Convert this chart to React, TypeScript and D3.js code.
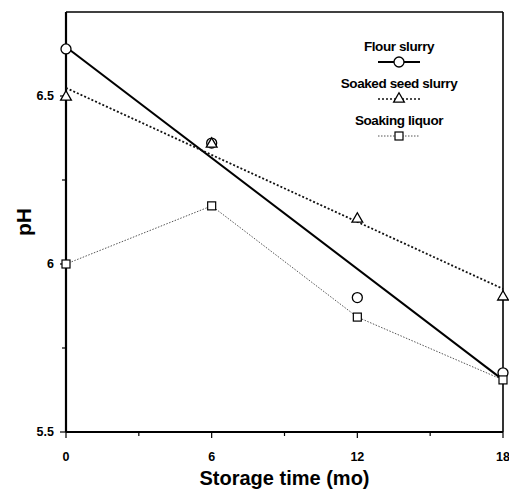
import React, { useEffect, useRef } from 'react';
import * as d3 from 'd3';

// storage time (months)
const months = [0, 6, 12, 18];
// observed pH values
const flourSlurry = [6.64, 6.36, 5.9, 5.676];
const soakedSeed = [6.5, 6.36, 6.137, 5.905];
const soakingLiquor = [6.0, 6.173, 5.842, 5.655];
// fitted lines (start at 0 mo, end at 18 mo)
const flourFit = [6.646, 5.655];
const soakedFit = [6.524, 5.926];

const xTicks = [0, 6, 12, 18];
const xMinor = [3, 9, 15];
const yTicks = [5.5, 6, 6.5];
const yMinor = [5.75, 6.25];

const legendItems = ['Flour slurry', 'Soaked seed slurry', 'Soaking liquor'];

const App = () => {
    const svgRef = useRef(null);

    useEffect(() => {
        const svg = d3.select(svgRef.current);
        svg.selectAll('*').remove();
        const width = 509;
        const height = 490;
        const margin = { top: 12, right: 6, bottom: 58, left: 66 };
        const font = 'Arial, "Liberation Sans", sans-serif';

        const x = d3.scaleLinear().domain([0, 18]).range([margin.left, width - margin.right]);
        const y = d3.scaleLinear().domain([5.5, 6.75]).range([height - margin.bottom, margin.top]);

        // frame top / right
        svg.append('line')
            .attr('x1', x(0)).attr('x2', x(18))
            .attr('y1', y(6.75)).attr('y2', y(6.75))
            .attr('stroke', '#000').attr('stroke-width', 1.6);
        svg.append('line')
            .attr('x1', x(18)).attr('x2', x(18))
            .attr('y1', y(6.75)).attr('y2', y(5.5))
            .attr('stroke', '#000').attr('stroke-width', 1.6);

        // x axis
        const gx = svg.append('g').attr('transform', `translate(0,${y(5.5)})`);
        gx.append('line').attr('x1', x(0)).attr('x2', x(18)).attr('stroke', '#000').attr('stroke-width', 2.2);
        gx.selectAll('.maj').data(xTicks).enter().append('line')
            .attr('x1', (d) => x(d)).attr('x2', (d) => x(d))
            .attr('y1', 0).attr('y2', 6).attr('stroke', '#000').attr('stroke-width', 1.2);
        gx.selectAll('.min').data(xMinor).enter().append('line')
            .attr('x1', (d) => x(d)).attr('x2', (d) => x(d))
            .attr('y1', 0).attr('y2', 4).attr('stroke', '#000').attr('stroke-width', 1.2);
        gx.selectAll('text').data(xTicks).enter().append('text')
            .attr('x', (d) => x(d)).attr('y', 29)
            .attr('text-anchor', 'middle')
            .style('font-family', font).style('font-weight', 'bold').style('font-size', '12.5px')
            .text((d) => d);

        // y axis
        const gy = svg.append('g').attr('transform', `translate(${x(0)},0)`);
        gy.append('line').attr('y1', y(5.5)).attr('y2', y(6.75)).attr('stroke', '#000').attr('stroke-width', 2.2);
        gy.selectAll('.maj').data(yTicks).enter().append('line')
            .attr('y1', (d) => y(d)).attr('y2', (d) => y(d))
            .attr('x1', 0).attr('x2', -6).attr('stroke', '#000').attr('stroke-width', 1.2);
        gy.selectAll('.min').data(yMinor).enter().append('line')
            .attr('y1', (d) => y(d)).attr('y2', (d) => y(d))
            .attr('x1', 0).attr('x2', -4).attr('stroke', '#000').attr('stroke-width', 1.2);
        gy.selectAll('text').data(yTicks).enter().append('text')
            .attr('x', -12).attr('y', (d) => y(d)).attr('dy', '0.35em')
            .attr('text-anchor', 'end')
            .style('font-family', font).style('font-weight', 'bold').style('font-size', '12.5px')
            .text((d) => d);

        // axis titles
        svg.append('text')
            .attr('x', (x(0) + x(18)) / 2).attr('y', 485)
            .attr('text-anchor', 'middle')
            .style('font-family', font).style('font-weight', 'bold').style('font-size', '20px')
            .text('Storage time (mo)');
        svg.append('text')
            .attr('transform', `translate(31,${(y(5.5) + y(6.75)) / 2}) rotate(-90)`)
            .attr('text-anchor', 'middle')
            .style('font-family', font).style('font-weight', 'bold').style('font-size', '21px')
            .text('pH');

        // fitted lines
        svg.append('line')
            .attr('x1', x(0)).attr('y1', y(flourFit[0]))
            .attr('x2', x(18)).attr('y2', y(flourFit[1]))
            .attr('stroke', '#000').attr('stroke-width', 2);
        svg.append('line')
            .attr('x1', x(0)).attr('y1', y(soakedFit[0]))
            .attr('x2', x(18)).attr('y2', y(soakedFit[1]))
            .attr('stroke', '#111').attr('stroke-width', 1.8).attr('stroke-dasharray', '2,2');

        // soaking liquor connected
        const line = d3.line().x((d) => x(d[0])).y((d) => y(d[1]));
        svg.append('path')
            .attr('d', line(months.map((m, i) => [m, soakingLiquor[i]])))
            .attr('fill', 'none').attr('stroke', '#555').attr('stroke-width', 1)
            .attr('stroke-dasharray', '1.5,1.5');

        const tri = d3.symbol().type(d3.symbolTriangle).size(50);
        const circleR = 5;

        // markers
        svg.selectAll('.circ').data(months).enter().append('circle')
            .attr('cx', (d) => x(d)).attr('cy', (d, i) => y(flourSlurry[i]))
            .attr('r', circleR).attr('fill', 'white').attr('stroke', '#000').attr('stroke-width', 1.3);
        svg.selectAll('.tri').data(months).enter().append('path')
            .attr('d', tri)
            .attr('transform', (d, i) => `translate(${x(d)},${y(soakedSeed[i]) + 1})`)
            .attr('fill', 'white').attr('stroke', '#000').attr('stroke-width', 1.3);
        svg.selectAll('.sq').data(months).enter().append('rect')
            .attr('x', (d) => x(d) - 4).attr('y', (d, i) => y(soakingLiquor[i]) - 4)
            .attr('width', 8).attr('height', 8)
            .attr('fill', 'white').attr('stroke', '#000').attr('stroke-width', 1.2);

        // legend
        const lx = 399;
        const lg = svg.append('g');
        legendItems.forEach((name, i) => {
            const ty = 51 + i * 37;
            const sy = ty + 11;
            lg.append('text')
                .attr('x', lx).attr('y', ty)
                .attr('text-anchor', 'middle')
                .style('font-family', font).style('font-weight', 'bold').style('font-size', '13.5px')
                .style('letter-spacing', '-0.4px')
                .text(name);
            const seg = lg.append('line')
                .attr('x1', lx - 21).attr('x2', lx + 21)
                .attr('y1', sy).attr('y2', sy);
            if (i === 0) {
                seg.attr('stroke', '#000').attr('stroke-width', 1.8);
                lg.append('circle').attr('cx', lx).attr('cy', sy).attr('r', 5)
                    .attr('fill', 'white').attr('stroke', '#000').attr('stroke-width', 1.3);
            } else if (i === 1) {
                seg.attr('stroke', '#111').attr('stroke-width', 1.5).attr('stroke-dasharray', '2,2');
                lg.append('path').attr('d', tri).attr('transform', `translate(${lx},${sy})`)
                    .attr('fill', 'white').attr('stroke', '#000').attr('stroke-width', 1.3);
            } else {
                seg.attr('stroke', '#555').attr('stroke-width', 1).attr('stroke-dasharray', '1.5,1.5');
                lg.append('rect').attr('x', lx - 4).attr('y', sy - 4).attr('width', 8).attr('height', 8)
                    .attr('fill', 'white').attr('stroke', '#000').attr('stroke-width', 1.2);
            }
        });
    }, []);

    return (
        <svg
            ref={svgRef}
            width={509}
            height={490}
            style={{ position: 'absolute', left: 0, top: 0, background: 'white' }}
        />
    );
};

export default App;
